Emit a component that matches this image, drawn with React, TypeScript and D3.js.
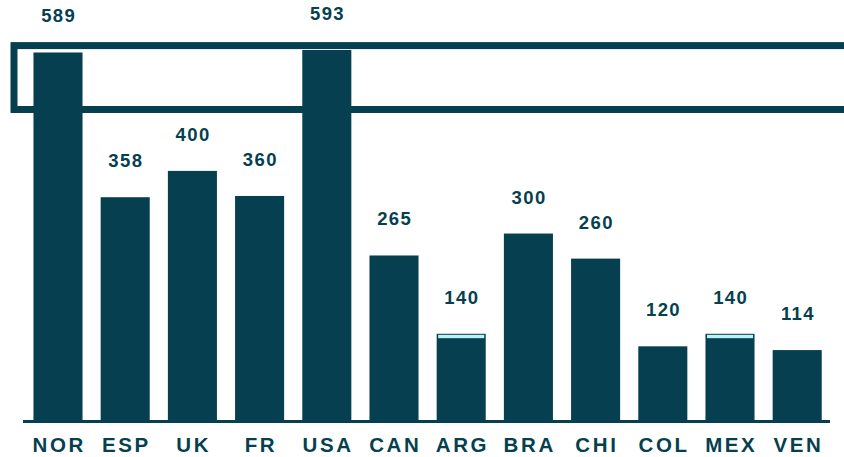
import * as d3 from "d3";

const countries = ["NOR", "ESP", "UK", "FR", "USA", "CAN", "ARG", "BRA", "CHI", "COL", "MEX", "VEN"];
const values = [589, 358, 400, 360, 593, 265, 140, 300, 260, 120, 140, 114];
// light cap shown on top of a few bars
const capValues = [0, 0, 0, 0, 0, 0, 7, 0, 0, 0, 7, 0];
// highlighted band (value range)
const bandRange = [498, 600];

const W = 844;
const H = 457;
const DARK = "#063f4f";
const LIGHT = "#b9f3f6";

export default function App() {
  const x = d3
    .scaleBand<string>()
    .domain(countries)
    .range([24.4, 830.8])
    .paddingInner(0.27)
    .paddingOuter(0.135);

  const y = d3.scaleLinear().domain([0, 600]).range([421.5, 45.6]);

  const fontFamily = "'Liberation Sans', Arial, sans-serif";

  return (
    <>
      <style>{`body{margin:0}`}</style>
      <svg width={W} height={H} viewBox={`0 0 ${W} ${H}`} style={{ display: "block" }}>
        <rect width={W} height={H} fill="#fff" />

        {/* bars */}
        {countries.map((c, i) => (
          <g key={c}>
            <rect
              x={x(c)}
              y={y(values[i])}
              width={x.bandwidth()}
              height={y(0) - y(values[i])}
              fill={DARK}
            />
            {capValues[i] > 0 && (
              <rect
                x={(x(c) || 0) + 1.5}
                y={y(values[i]) + 1}
                width={x.bandwidth() - 3}
                height={y(values[i] - capValues[i]) - y(values[i]) - 1}
                fill={LIGHT}
              />
            )}
            <text
              x={(x(c) || 0) + x.bandwidth() / 2}
              dx={0.7}
              y={y(values[i]) - 30}
              textAnchor="middle"
              fill={DARK}
              fontFamily={fontFamily}
              fontWeight="bold"
              fontSize={18.5}
              letterSpacing={1.4}
            >
              {values[i]}
            </text>
            <text
              x={(x(c) || 0) + x.bandwidth() / 2}
              dx={1.3}
              y={452}
              textAnchor="middle"
              fill={DARK}
              fontFamily={fontFamily}
              fontWeight="bold"
              fontSize={20.5}
              letterSpacing={2.6}
            >
              {c}
            </text>
          </g>
        ))}

        {/* baseline */}
        <line x1={23} x2={830} y1={y(0)} y2={y(0)} stroke={DARK} strokeWidth={3} />

        {/* highlight frame */}
        <rect
          x={14}
          y={y(bandRange[1])}
          width={840}
          height={y(bandRange[0]) - y(bandRange[1])}
          fill="none"
          stroke={DARK}
          strokeWidth={7}
        />
      </svg>
    </>
  );
}
